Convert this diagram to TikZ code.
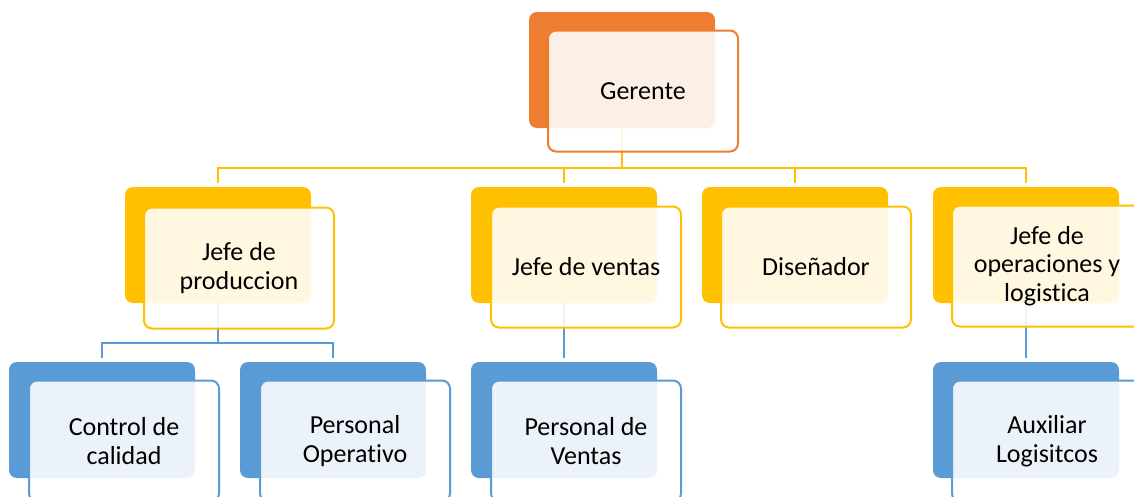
\documentclass[tikz,border=0pt]{standalone}
\usepackage{fontspec}
\setmainfont{Carlito}[Ligatures=NoCommon]
\usepackage{xcolor}
\usepackage{tikz}

\definecolor{naranja}{HTML}{ED7D31}
\definecolor{amarillo}{HTML}{FFC000}
\definecolor{azul}{HTML}{5B9BD5}

\tikzset{
  backbox/.style={rounded corners=6pt, fill=#1, minimum width=139.5pt, minimum height=87pt, inner sep=0pt},
  frontbox/.style={draw=#1, line width=1.5pt, rounded corners=6pt, fill=white, fill opacity=0.88, text opacity=1,
    minimum width=142.5pt, minimum height=90.75pt, inner sep=2pt, align=center, font=\fontsize{19.5}{21.5}\selectfont},
  enlace/.style={draw=#1, line width=1.6pt, shorten >=3pt},
}

\begin{document}
\begin{tikzpicture}[x=0.75pt, y=-0.75pt]
        \useasboundingbox (0,0) rectangle (1134,496);

        % cajas de fondo
        \node[backbox=naranja] (gerB) at (622,70) {};
        \node[backbox=amarillo] (prodB) at (218,245) {};
        \node[backbox=amarillo] (ventB) at (564,245) {};
        \node[backbox=amarillo] (disB) at (795,245) {};
        \node[backbox=amarillo] (operB) at (1026,245) {};
        \node[backbox=azul] (calB) at (102,420) {};
        \node[backbox=azul] (opeB) at (333,420) {};
        \node[backbox=azul] (pvenB) at (564,420) {};
        \node[backbox=azul] (auxB) at (1026,420) {};

        % enlaces
        \coordinate (bus1) at (622,168);
        \coordinate (bus2) at (218,343);
        \draw[enlace=amarillo, shorten >=0pt] (gerB.south) -- (bus1);
        \foreach \n in {prodB, ventB, disB, operB}
            \draw[enlace=amarillo] (bus1) -| (\n.north);
        \draw[enlace=azul, shorten >=0pt] (prodB.south) -- (bus2);
        \draw[enlace=azul] (bus2) -| (calB.north);
        \draw[enlace=azul] (bus2) -| (opeB.north);
        \draw[enlace=azul] (ventB.south) -- (pvenB.north);
        \draw[enlace=azul] (operB.south) -- (auxB.north);

        % cajas con texto
        \node[frontbox=naranja] (ger) at (643,91) {Gerente};
        \node[frontbox=amarillo] (prod) at (239,268) {Jefe de\\produccion};
        \node[frontbox=amarillo] (vent) at (586,267) {Jefe de ventas};
        \node[frontbox=amarillo] (dis) at (816,267) {Diseñador};
        \node[frontbox=amarillo] (oper) at (1047,266) {Jefe de\\operaciones y\\logistica};
        \node[frontbox=azul] (cal) at (124,441) {Control de\\calidad};
        \node[frontbox=azul] (ope) at (355,441) {Personal\\Operativo};
        \node[frontbox=azul] (pven) at (586,441) {Personal de\\Ventas};
        \node[frontbox=azul] (aux) at (1047,441) {Auxiliar\\Logisitcos};

    \end{tikzpicture}
\end{document}
